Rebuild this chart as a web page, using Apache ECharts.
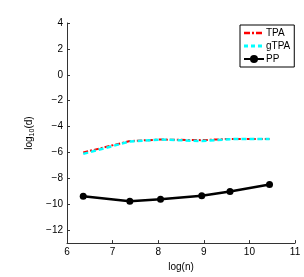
<!DOCTYPE html>
<html><head><meta charset="utf-8">
<script src="https://cdn.jsdelivr.net/npm/echarts@6/dist/echarts.min.js"></script>
<style>html,body{margin:0;padding:0;background:#fff}#c{width:304px;height:277px}</style>
</head><body><div id="c"></div>
<script>
var xVals = [6.356, 7.378, 8.051, 8.955, 9.575, 10.441];
var tpa = [-6.0, -5.12, -5.0, -5.05, -4.95, -4.95];
var gtpa = [-6.11, -5.15, -5.0, -5.12, -4.97, -4.95];
var pp = [-9.39, -9.77, -9.62, -9.35, -9.02, -8.47];
var yTicks = [-12, -10, -8, -6, -4, -2, 0, 2, 4];
var xTicks = [6, 7, 8, 9, 10, 11];
function pairs(ys){ return xVals.map(function(x,i){return [x, ys[i]];}); }
var font = 'Liberation Sans, Arial, sans-serif';
var chart = echarts.init(document.getElementById('c'));
chart.setOption({
  animation: false,
  grid: {left: 67, right: 9, top: 23, bottom: 26},
  legend: {
    left: 240, top: 25,
    orient: 'vertical',
    backgroundColor: '#fff',
    borderColor: '#000', borderWidth: 1, borderRadius: 0,
    padding: [3, 4, 3, 3],
    itemGap: 3, itemWidth: 20, itemHeight: 10,
    symbolKeepAspect: true,
    textStyle: {fontFamily: font, fontSize: 10, color: '#000', padding: [0,0,0,-3]},
    data: [
      {name: 'TPA', icon: 'path://M0,0h6v2.5h-6z M8,0h2v2.5h-2z M12,0h6v2.5h-6z M20,0h0.01v2.5h-0.01z'},
      {name: 'gTPA', icon: 'path://M0,0h4v3h-4z M7,0h4v3h-4z M14,0h4v3h-4z M20,0h0.01v3h-0.01z'},
      {name: 'PP'}
    ]
  },
  xAxis: {
    type: 'value', min: 6, max: 11, interval: 1,
    name: 'log(n)', nameLocation: 'middle', nameGap: 15,
    nameTextStyle: {fontFamily: font, fontSize: 10, color: '#000'},
    axisLine: {onZero: false, lineStyle: {color: '#333', width: 1}},
    axisTick: {inside: true, length: 3, lineStyle: {color: '#333'}},
    axisLabel: {fontFamily: font, fontSize: 10, color: '#000', margin: 4},
    splitLine: {show: false}
  },
  yAxis: {
    type: 'value', min: -13, max: 4,
    name: '{a|log}{b|10}{a|(d)}', nameLocation: 'middle', nameGap: 28, nameRotate: 90,
    nameTextStyle: {rich: {a: {fontFamily: font, fontSize: 10, color: '#000'}, b: {fontFamily: font, fontSize: 7, color: '#000', verticalAlign: 'bottom', padding: [4,0,0,0]}}},
    axisLine: {show: true, onZero: false, lineStyle: {color: '#333', width: 1}},
    axisTick: {show: true, inside: true, length: 3, customValues: yTicks, lineStyle: {color: '#333'}},
    axisLabel: {customValues: yTicks, fontFamily: font, fontSize: 10, color: '#000', margin: 4,
      formatter: function(v){ return String(v).replace('-', '\u2212'); }},
    splitLine: {show: false}
  },
  series: [
    {name: 'TPA', type: 'line', data: pairs(tpa), symbol: 'none', z: 2,
      itemStyle: {color: '#ff0000'},
      lineStyle: {color: '#ff0000', width: 2, type: [5, 2, 2, 2]}},
    {name: 'gTPA', type: 'line', data: pairs(gtpa), symbol: 'none', z: 3,
      itemStyle: {color: '#00ffff'},
      lineStyle: {color: '#00ffff', width: 2.5, type: [5, 3]}},
    {name: 'PP', type: 'line', data: pairs(pp), symbol: 'circle', symbolSize: 7, z: 4,
      itemStyle: {color: '#000'},
      lineStyle: {color: '#000', width: 2.5}}
  ]
});
</script></body></html>
